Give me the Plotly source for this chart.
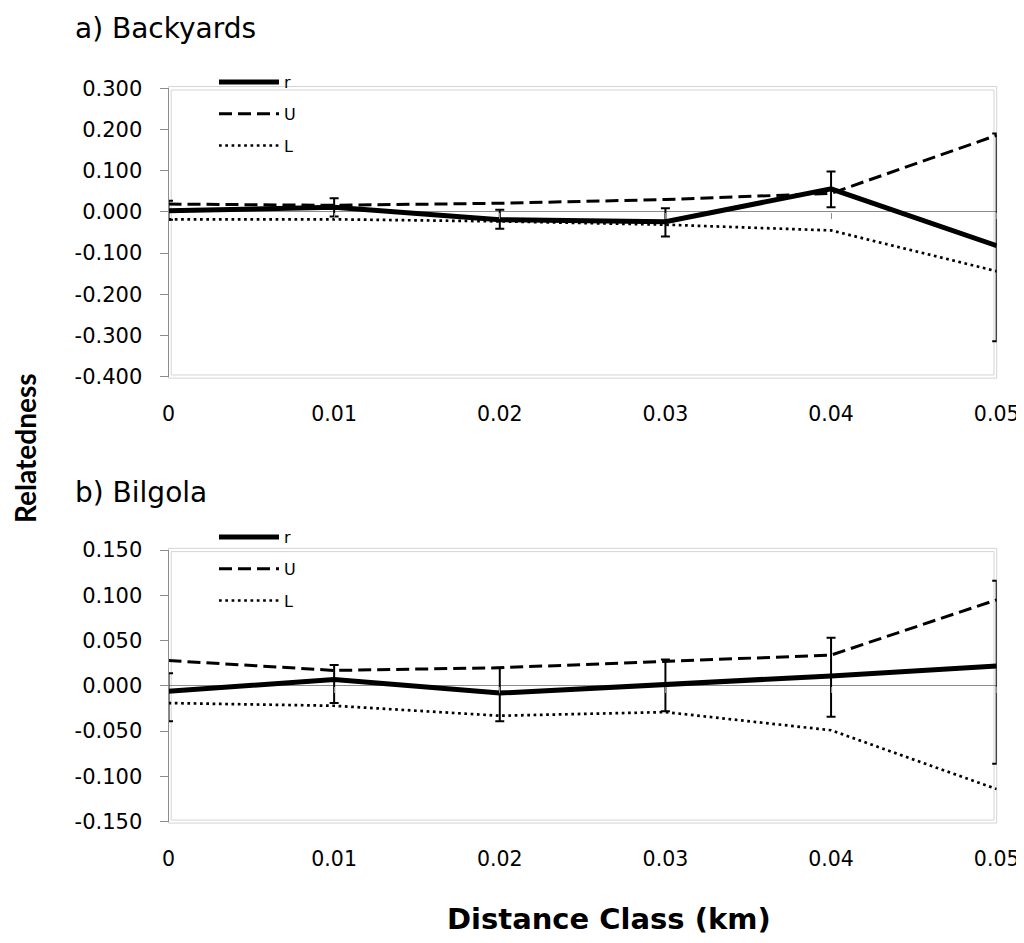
import plotly.graph_objects as go

# ---------------- data ----------------
distance = [0, 0.01, 0.02, 0.03, 0.04, 0.05]
tick_labels_x = ["0", "0.01", "0.02", "0.03", "0.04", "0.05"]

# a) Backyards
a_r = [0.003, 0.011, -0.019, -0.024, 0.056, -0.082]
a_U = [0.019, 0.016, 0.021, 0.030, 0.045, 0.186]
a_L = [-0.018, -0.018, -0.023, -0.031, -0.045, -0.144]
a_err_hi = [0.027, 0.033, 0.005, 0.009, 0.098, 0.190]
a_err_lo = [-0.019, -0.011, -0.041, -0.060, 0.011, -0.314]

# b) Bilgola
b_r = [-0.006, 0.007, -0.008, 0.001, 0.011, 0.022]
b_U = [0.028, 0.017, 0.020, 0.027, 0.034, 0.095]
b_L = [-0.019, -0.022, -0.033, -0.029, -0.049, -0.114]
b_err_hi = [0.014, 0.023, 0.020, 0.029, 0.053, 0.116]
b_err_lo = [-0.039, -0.019, -0.039, -0.028, -0.034, -0.086]

a_yticks = [0.3, 0.2, 0.1, 0.0, -0.1, -0.2, -0.3, -0.4]
b_yticks = [0.15, 0.10, 0.05, 0.0, -0.05, -0.10, -0.15]

FONT = "DejaVu Sans, Verdana, sans-serif"
FONT_V = "Lato, Carlito, Calibri, sans-serif"
W, H = 1016, 927
OFF = 8  # page body margin


def px(p):
    return (p - OFF) / W


def py(p):
    return 1 - (p - OFF) / H


fig = go.Figure()


def add_panel(r, U, L, hi, lo, xa, ya, legend):
    plus = [h - v for h, v in zip(hi, r)]
    minus = [v - l for v, l in zip(r, lo)]
    fig.add_trace(go.Scatter(
        x=distance, y=r, name="r", mode="lines",
        line=dict(color="black", width=5),
        error_y=dict(type="data", symmetric=False, array=plus, arrayminus=minus,
                     color="black", thickness=2, width=4.5),
        xaxis=xa, yaxis=ya, legend=legend, legendgroup=legend + "r",
    ))
    fig.add_trace(go.Scatter(
        x=distance, y=U, name="U", mode="lines",
        line=dict(color="black", width=3, dash="13px,6px"),
        xaxis=xa, yaxis=ya, legend=legend, legendgroup=legend + "U",
    ))
    fig.add_trace(go.Scatter(
        x=distance, y=L, name="L", mode="lines",
        line=dict(color="black", width=2.7, dash="2.7px,3.6px"),
        xaxis=xa, yaxis=ya, legend=legend, legendgroup=legend + "L",
    ))


add_panel(a_r, a_U, a_L, a_err_hi, a_err_lo, "x", "y", "legend")
add_panel(b_r, b_U, b_L, b_err_hi, b_err_lo, "x2", "y2", "legend2")

xdom = [px(168.5), px(996.7)]
ydom_a = [py(376.7), py(88.3)]
ydom_b = [py(821.7), py(550.0)]

AXIS_GRAY = "#8c8c8c"
FRAME_GRAY = "#d4d4d4"

xaxis_common = dict(
    range=[0, 0.05], tickvals=distance, ticktext=tick_labels_x,
    showgrid=False, zeroline=False, showline=False, ticks="",
    ticklabelstandoff=23, ticklabeloverflow="allow",
    tickfont=dict(family=FONT, size=20.5, color="black"),
    automargin=False, domain=xdom, fixedrange=True,
)
# overlay axes that draw Excel-style tick marks along the zero line
xaxis_zero = dict(
    range=[0, 0.05], tickvals=distance, showticklabels=False,
    showgrid=False, zeroline=False, showline=False,
    ticks="outside", ticklen=6, tickcolor=AXIS_GRAY, tickwidth=1,
    automargin=False, domain=xdom, fixedrange=True, anchor="free",
)
yaxis_common = dict(
    showgrid=False, zeroline=True, zerolinecolor=AXIS_GRAY, zerolinewidth=1,
    showline=True, linecolor=AXIS_GRAY, linewidth=1,
    ticks="outside", ticklen=8, tickcolor=AXIS_GRAY, tickwidth=1,
    ticklabelstandoff=13, ticklabeloverflow="allow",
    tickfont=dict(family=FONT, size=21, color="black"),
    automargin=False,
)

zero_a = ydom_a[0] + (0 - (-0.4)) / 0.7 * (ydom_a[1] - ydom_a[0])
zero_b = ydom_b[0] + (0 - (-0.15)) / 0.3 * (ydom_b[1] - ydom_b[0])

legend_common = dict(
    xanchor="left", yanchor="top", bgcolor="rgba(0,0,0,0)",
    font=dict(family=FONT, size=16, color="black"),
    tracegroupgap=8, itemwidth=60,
)


def frames(xr, yr):
    ix = 2.7 / (996.7 - 168.5)
    return [
        dict(type="rect", xref=f"{xr} domain", yref=f"{yr} domain", x0=0, x1=1, y0=-0.005, y1=1.006,
             line=dict(color=FRAME_GRAY, width=1), layer="below"),
        dict(type="rect", xref=f"{xr} domain", yref=f"{yr} domain", x0=ix, x1=1 - ix, y0=0.006, y1=0.994,
             line=dict(color=FRAME_GRAY, width=1), layer="below"),
    ]


fig.update_layout(
    width=W, height=H,
    margin=dict(l=0, r=0, t=0, b=0),
    paper_bgcolor="white", plot_bgcolor="white",
    showlegend=True,
    xaxis=dict(**xaxis_common, anchor="y"),
    xaxis2=dict(**xaxis_common, anchor="y2"),
    xaxis3=dict(**xaxis_zero, overlaying="x", position=zero_a),
    xaxis4=dict(**xaxis_zero, overlaying="x2", position=zero_b),
    yaxis=dict(**yaxis_common, domain=ydom_a, range=[-0.4, 0.3],
               tickvals=a_yticks, ticktext=[f"{v:.3f}" for v in a_yticks], anchor="x"),
    yaxis2=dict(**yaxis_common, domain=ydom_b, range=[-0.15, 0.15],
                tickvals=b_yticks, ticktext=[f"{v:.3f}" for v in b_yticks], anchor="x2"),
    legend=dict(**legend_common, x=px(214), y=py(65)),
    legend2=dict(**legend_common, x=px(214), y=py(520)),
    shapes=frames("x", "y") + frames("x2", "y2"),
    annotations=[
        dict(text="a) Backyards", xref="paper", yref="paper", x=px(73), y=py(28),
             xanchor="left", yanchor="middle", showarrow=False,
             font=dict(family=FONT, size=28, color="black")),
        dict(text="b) Bilgola", xref="paper", yref="paper", x=px(73), y=py(492),
             xanchor="left", yanchor="middle", showarrow=False,
             font=dict(family=FONT, size=28, color="black")),
        dict(text="<b>Relatedness</b>", xref="paper", yref="paper", x=px(25), y=py(448),
             xanchor="center", yanchor="middle", showarrow=False, textangle=-90,
             font=dict(family=FONT_V, size=28, color="black")),
        dict(text="<b>Distance Class (km)</b>", xref="paper", yref="paper", x=px(609),
             y=py(919), xanchor="center", yanchor="middle", showarrow=False,
             font=dict(family=FONT, size=29, color="black")),
    ],
)

# invisible traces so the zero-line tick axes are drawn
fig.add_trace(go.Scatter(x=[0], y=[0], xaxis="x3", yaxis="y", mode="none",
                         showlegend=False, hoverinfo="skip"))
fig.add_trace(go.Scatter(x=[0], y=[0], xaxis="x4", yaxis="y2", mode="none",
                         showlegend=False, hoverinfo="skip"))

fig.write_html("out.html")
